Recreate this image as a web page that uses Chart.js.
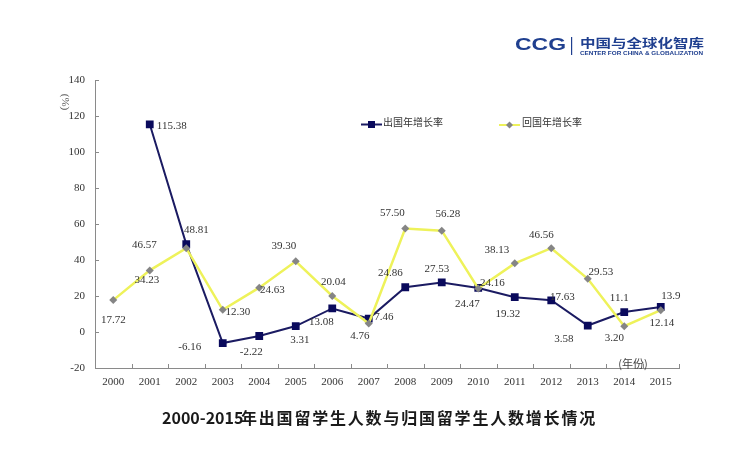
<!DOCTYPE html>
<html><head><meta charset="utf-8">
<script src="https://cdn.jsdelivr.net/npm/chart.js@4"></script>
<style>html,body{margin:0;padding:0;background:#fff}#wrap{width:740px;height:463px;position:relative}</style>
</head><body><div id="wrap"><canvas id="c" width="740" height="463"></canvas></div>
<script>
// ---- data ----
const years = ['2000','2001','2002','2003','2004','2005','2006','2007','2008','2009','2010','2011','2012','2013','2014','2015'];
const outbound = [null,115.38,48.81,-6.16,-2.22,3.31,13.08,7.46,24.86,27.53,24.47,19.32,17.63,3.58,11.1,13.9];
const returnees = [17.72,34.23,46.57,12.30,24.63,39.30,20.04,4.76,57.50,56.28,24.16,38.13,46.56,29.53,3.20,12.14];
const outboundLabels = ['','115.38','48.81','-6.16','-2.22','3.31','13.08','7.46','24.86','27.53','24.47','19.32','17.63','3.58','11.1','13.9'];
const returnLabels = ['17.72','34.23','46.57','12.30','24.63','39.30','20.04','4.76','57.50','56.28','24.16','38.13','46.56','29.53','3.20','12.14'];
const yTicks = [-20,0,20,40,60,80,100,120,140];
const seriesNames = ['出国年增长率','回国年增长率'];
const titleNum = '2000-2015';
const titleText = '年出国留学生人数与归国留学生人数增长情况';
const yUnit = '(%)';
const xUnit = '(年份)';

// ---- layout (label offsets, px relative to point) ----
const outOff = [null,[22,2],[10,-14],[-33,4],[-8,16],[4,14],[-11,14],[15,-1],[-15,-14],[-5,-13],[-11,16],[-7,17],[11,-3],[-24,14],[-5,-14],[10,-11]];
const retOff = [[0,20],[-3,10],[-42,-3],[15,2],[13,2],[-12,-15],[1,-14],[-9,13],[-13,-15],[6,-17],[14,-5],[-18,-13],[-10,-13],[13,-7],[-10,12],[1,13]];

const NAVY = '#0a0a5c', NAVYLINE = '#1b1b62', YEL = '#eef25a', GREY = '#858585', AX = '#8a8a8a', TXT = '#333';
const SERIF = '"Liberation Serif","Times New Roman",serif';
const CJK = '"Noto Sans CJK SC","Noto Sans",sans-serif';

const deco = {
  id: 'deco',
  afterDatasetsDraw(chart) {
    const ctx = chart.ctx, xs = chart.scales.x, ys = chart.scales.y, ca = chart.chartArea;
    ctx.save();
    // tick marks
    ctx.strokeStyle = AX; ctx.lineWidth = 1;
    yTicks.forEach(v => { const y = Math.round(ys.getPixelForValue(v)) + 0.5; ctx.beginPath(); ctx.moveTo(ca.left, y); ctx.lineTo(ca.left + 4, y); ctx.stroke(); });
    const w = (ca.right - ca.left) / years.length;
    for (let i = 1; i <= years.length; i++) { const x = Math.round(ca.left + i * w) + 0.5; ctx.beginPath(); ctx.moveTo(x, ca.bottom); ctx.lineTo(x, ca.bottom - 4); ctx.stroke(); }
    // data labels
    ctx.font = '11px ' + SERIF; ctx.fillStyle = TXT; ctx.textAlign = 'center'; ctx.textBaseline = 'middle';
    const m0 = chart.getDatasetMeta(0), m1 = chart.getDatasetMeta(1);
    m1.data.forEach((p, i) => { if (outbound[i] == null) return; const o = outOff[i]; ctx.fillText(outboundLabels[i], p.x + o[0], p.y + o[1]); });
    m0.data.forEach((p, i) => { const o = retOff[i]; ctx.fillText(returnLabels[i], p.x + o[0], p.y + o[1]); });
    // units
    ctx.save(); ctx.translate(65, 102); ctx.rotate(Math.PI / 2); ctx.font = '11px ' + SERIF; ctx.fillStyle = '#555'; ctx.fillText(yUnit, 0, 0); ctx.restore();
    ctx.font = '11px ' + CJK; ctx.fillStyle = '#444'; ctx.fillText(xUnit, 633, 364);
    // legend
    ctx.lineWidth = 2;
    ctx.strokeStyle = NAVYLINE; ctx.beginPath(); ctx.moveTo(361, 124.5); ctx.lineTo(382, 124.5); ctx.stroke();
    ctx.fillStyle = NAVY; ctx.fillRect(368, 121, 7, 7);
    ctx.strokeStyle = YEL; ctx.beginPath(); ctx.moveTo(499, 125); ctx.lineTo(520, 125); ctx.stroke();
    ctx.fillStyle = GREY; ctx.beginPath(); ctx.moveTo(509.5, 121.5); ctx.lineTo(513, 125); ctx.lineTo(509.5, 128.5); ctx.lineTo(506, 125); ctx.closePath(); ctx.fill();
    ctx.font = '10px ' + CJK; ctx.fillStyle = TXT; ctx.textAlign = 'left';
    ctx.fillText(seriesNames[0], 383, 122.5);
    ctx.fillText(seriesNames[1], 522, 122.5);
    // title
    ctx.fillStyle = '#1a1a1a'; ctx.font = 'bold 16px ' + CJK; ctx.textBaseline = 'middle';
    ctx.fillText(titleNum, 162, 418);
    ctx.letterSpacing = '1.8px';
    ctx.fillText(titleText, 241, 418);
    ctx.letterSpacing = '0px';
    // logo
    const LC = '#1f3f8f';
    ctx.fillStyle = LC;
    ctx.save(); ctx.translate(515, 45.5); ctx.font = 'bold 17px "Liberation Sans",Arial,sans-serif';
    const cw = ctx.measureText('CCG').width; ctx.scale(51 / cw, 1); ctx.fillText('CCG', 0, 0); ctx.restore();
    ctx.fillRect(571, 37, 1.2, 18);
    ctx.save(); ctx.translate(580, 43.5); ctx.font = 'bold 12px ' + CJK;
    const zw = ctx.measureText('中国与全球化智库').width; ctx.scale(124 / zw, 1); ctx.fillText('中国与全球化智库', 0, 0); ctx.restore();
    ctx.save(); ctx.translate(580, 53.5); ctx.font = 'bold 5px "Liberation Sans",Arial,sans-serif';
    const ew = ctx.measureText('CENTER FOR CHINA & GLOBALIZATION').width; ctx.scale(123 / ew, 1); ctx.fillText('CENTER FOR CHINA & GLOBALIZATION', 0, 0); ctx.restore();
    ctx.restore();
  }
};

new Chart(document.getElementById('c'), {
  type: 'line',
  data: {
    labels: years,
    datasets: [
      { label: seriesNames[1], data: returnees, order: 0, borderColor: YEL, borderWidth: 2.5, pointStyle: 'rectRot', pointRadius: 4, pointBackgroundColor: GREY, pointBorderColor: GREY, pointBorderWidth: 0, tension: 0, fill: false },
      { label: seriesNames[0], data: outbound, order: 1, borderColor: NAVYLINE, borderWidth: 2, pointStyle: 'rect', pointRadius: 5.5, pointBackgroundColor: NAVY, pointBorderColor: NAVY, pointBorderWidth: 0, tension: 0, fill: false }
    ]
  },
  options: {
    responsive: false, animation: false, devicePixelRatio: 1,
    layout: { padding: { left: 0, top: 80, right: 61, bottom: 0 } },
    plugins: { legend: { display: false }, tooltip: { enabled: false } },
    scales: {
      x: {
        type: 'category', offset: true,
        grid: { display: false, drawTicks: false },
        border: { display: true, color: AX, width: 1 },
        ticks: { font: { size: 11, family: SERIF }, color: TXT, padding: 8, maxRotation: 0, autoSkip: false },
        afterFit(s) { s.height = 95; }
      },
      y: {
        min: -20, max: 140,
        grid: { display: false, drawTicks: false },
        border: { display: true, color: AX, width: 1 },
        ticks: { stepSize: 20, font: { size: 11, family: SERIF }, color: TXT, padding: 10 },
        afterFit(s) { s.width = 95; }
      }
    }
  },
  plugins: [deco]
});
</script>
</body></html>
